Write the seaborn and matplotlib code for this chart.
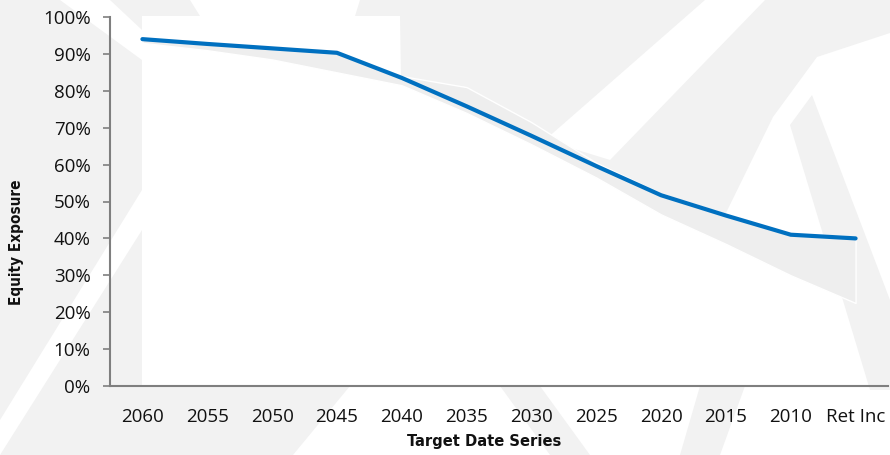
import matplotlib
matplotlib.use("Agg")
import matplotlib.pyplot as plt
import seaborn as sns
import pandas as pd
from matplotlib import font_manager as fm
from matplotlib.patches import Polygon

# ---- data ----
categories = ["2060", "2055", "2050", "2045", "2040", "2035", "2030",
              "2025", "2020", "2015", "2010", "Ret Inc"]
equity = [94.0, 92.7, 91.5, 90.3, 83.5, 75.8, 67.8, 59.6, 51.7, 46.2, 41.0, 40.0]
range_high = [94.5, 93.2, 92.2, 90.8, 84.0, 81.0, 71.5, 60.5, 52.2, 46.6, 41.5, 40.5]
range_low = [93.0, 91.0, 88.5, 85.0, 81.5, 74.0, 65.5, 56.5, 46.5, 38.5, 30.0, 22.5]
y_ticks = [0, 10, 20, 30, 40, 50, 60, 70, 80, 90, 100]
y_tick_labels = [f"{v}%" for v in y_ticks]

df = pd.DataFrame({"series": categories, "equity": equity})

sns.set_theme(style="white")
names = {f.name for f in fm.fontManager.ttflist}
tick_font = "Open Sans" if "Open Sans" in names else "DejaVu Sans"
plt.rcParams["font.family"] = [tick_font, "DejaVu Sans"]


def is_bold(w):
    if isinstance(w, (int, float)):
        return w >= 600
    return str(w).lower() in ("bold", "demibold", "semibold", "heavy", "black", "extra bold")


def is_narrow(entry):
    n = entry.name.lower()
    st = entry.stretch
    if "narrow" in n or "condensed" in n:
        return True
    if isinstance(st, (int, float)):
        return st <= 87
    return "condensed" in str(st).lower()


pref = ["liberation sans narrow", "dejavu sans", "roboto", "open sans", "noto sans"]
best = None
for f in fm.fontManager.ttflist:
    if is_bold(f.weight) and is_narrow(f) and "italic" not in str(f.style).lower() \
            and "oblique" not in str(f.style).lower() and "mono" not in f.name.lower() \
            and "serif" not in f.name.lower():
        rank = next((i for i, p in enumerate(pref) if f.name.lower().startswith(p)), 99)
        if best is None or rank < best[0]:
            best = (rank, f.fname)
if best is not None:
    label_fp = fm.FontProperties(fname=best[1], size=11.8)
    ylabel_fp = fm.FontProperties(fname=best[1], size=11)
else:
    label_fp = fm.FontProperties(family="Roboto", weight="bold", size=11)
    ylabel_fp = fm.FontProperties(family="Roboto", weight="bold", size=9.5)

W, H = 890, 455
fig = plt.figure(figsize=(W / 100, H / 100), dpi=100)
fig.patch.set_facecolor("white")

# ---- faint watermark in background (pixel coords, y down) ----
WM = "#f2f2f2"


def px(pts):
    return [(x / W, 1 - y / H) for x, y in pts]


def add_poly(pts, color, z):
    fig.patches.append(Polygon(px(pts), closed=True, transform=fig.transFigure,
                               facecolor=color, edgecolor="none", zorder=z))


add_poly([(0, 0), (890, 0), (890, 16), (0, 16)], WM, -10)
add_poly([(0, 0), (142, 0), (142, 395), (0, 395)], WM, -10)
add_poly([(0, 386), (350, 386), (293, 455), (0, 455)], WM, -10)
add_poly([(400, 16), (890, 16), (890, 33), (817, 57), (773, 117), (725, 215),
          (660, 195), (596, 166), (531, 122), (466, 87), (401, 78)], WM, -10)
add_poly([(790, 125), (812, 95), (890, 300), (890, 390), (870, 390)], WM, -10)
add_poly([(500, 386), (540, 386), (590, 455), (550, 455)], WM, -10)
add_poly([(700, 386), (745, 386), (720, 455), (680, 455)], WM, -10)
# white diagonal stripes
add_poly([(545, 140), (610, 160), (765, 0), (705, 0)], "white", -9)
add_poly([(0, 420), (0, 455), (142, 230), (142, 190)], "white", -9)
add_poly([(60, 0), (110, 0), (142, 30), (142, 60)], "white", -9)
add_poly([(190, 0), (360, 0), (355, 16), (200, 16)], "white", -9)

# ---- axes ----
ax = fig.add_axes([110 / W, (H - 386) / H, 778 / W, 369 / H])
ax.patch.set_alpha(0)

x_idx = list(range(len(categories)))
ax.fill_between(x_idx, range_low, range_high, color="#eeeeee",
                edgecolor="white", linewidth=1.0, zorder=2)
sns.lineplot(data=df, x="series", y="equity", ax=ax, color="#0070c0",
             linewidth=3.0, sort=False, zorder=3)

ax.set_xlim(-0.5, len(categories) - 0.5)
ax.set_ylim(0, 100)
ax.set_yticks(y_ticks)
ax.set_yticklabels(y_tick_labels)
ax.set_xticks(x_idx)
ax.set_xticklabels(categories)

for s in ["top", "right"]:
    ax.spines[s].set_visible(False)
for s in ["left", "bottom"]:
    ax.spines[s].set_color("#7f7f7f")
    ax.spines[s].set_linewidth(1.5)

ax.tick_params(axis="y", which="major", left=True, length=5, width=1.2,
               color="#7f7f7f", labelsize=13.5, labelcolor="#111111", pad=9)
ax.tick_params(axis="x", which="major", bottom=False, labelsize=13.5,
               labelcolor="#111111", pad=10)

ax.set_xlabel("Target Date Series", fontproperties=label_fp, color="#111111")
ax.set_ylabel("Equity Exposure", fontproperties=ylabel_fp, color="#111111")
ax.xaxis.set_label_coords(0.481, -0.130)
ax.yaxis.set_label_coords(-0.110, 0.39)
ax.grid(False)

fig.savefig("out.png", dpi=100, facecolor=fig.get_facecolor())
